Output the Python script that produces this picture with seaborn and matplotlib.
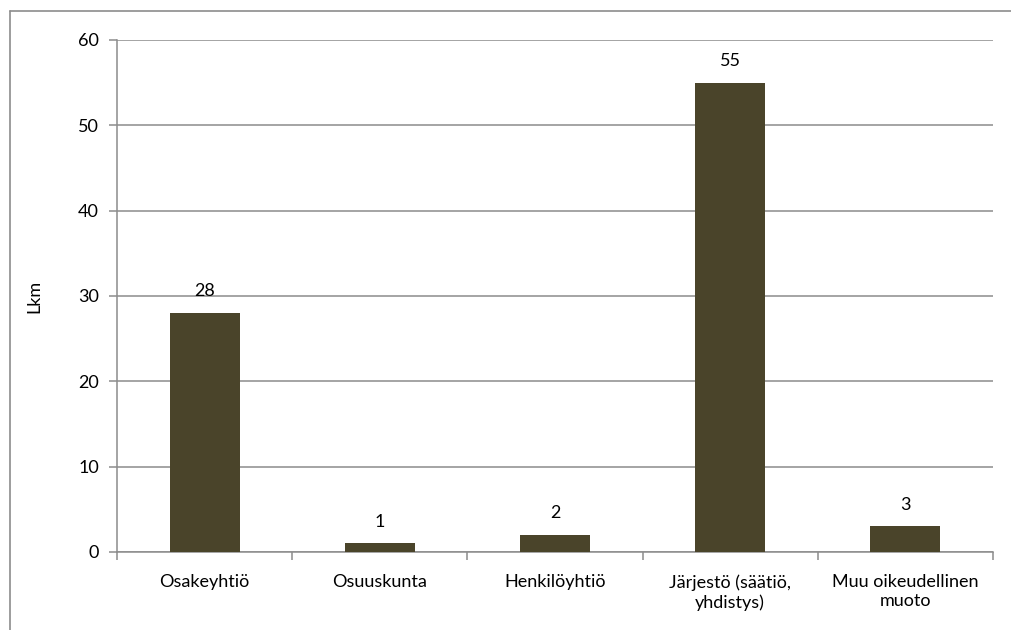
import matplotlib
matplotlib.use("Agg")
import matplotlib.pyplot as plt
from matplotlib.lines import Line2D
import seaborn as sns
import pandas as pd
import numpy as np

categories = ["Osakeyhtiö", "Osuuskunta", "Henkilöyhtiö",
              "Järjestö (säätiö,\nyhdistys)", "Muu oikeudellinen\nmuoto"]
counts = [28, 1, 2, 55, 3]
y_ticks = [0, 10, 20, 30, 40, 50, 60]

sns.set_theme(style="white")
plt.rcParams["font.family"] = ["Lato", "DejaVu Sans"]

df = pd.DataFrame({"muoto": categories, "lkm": counts})

fig = plt.figure(figsize=(10.11, 6.30), dpi=100)
ax = fig.add_axes([117 / 1011, 1 - 552 / 630, (993 - 117) / 1011, (552 - 40) / 630])

grid_c = "#8c8c8c"
bar_c = "#4a442a"
fs = 13

sns.barplot(data=df, x="muoto", y="lkm", color=bar_c, width=0.4,
            saturation=1, linewidth=0, ax=ax, zorder=3)

ax.set_ylim(0, 60)
ax.set_xlim(-0.5, len(categories) - 0.5)
ax.set_yticks(y_ticks)
ax.yaxis.grid(True, color=grid_c, linewidth=1.1, zorder=0)
ax.xaxis.grid(False)
ax.set_axisbelow(True)

for s in ["top", "right"]:
    ax.spines[s].set_visible(False)
for s in ["left", "bottom"]:
    ax.spines[s].set_color(grid_c)
    ax.spines[s].set_linewidth(1.1)

ax.tick_params(axis="y", which="major", length=6, width=1.1, color=grid_c,
               labelsize=fs, labelcolor="black", pad=7, left=True)
ax.tick_params(axis="x", which="major", length=0, labelsize=fs,
               labelcolor="black", pad=16)
for lbl in ax.get_xticklabels():
    lbl.set_linespacing(1.25)
ax.set_xticks(np.arange(-0.5, len(categories), 1.0), minor=True)
ax.tick_params(axis="x", which="minor", length=6, width=1.1, color=grid_c,
               bottom=True)

ax.set_xlabel("")
ax.set_ylabel("Lkm", fontsize=fs, color="black", labelpad=26)

for container in ax.containers:
    ax.bar_label(container, labels=[str(v) for v in counts], padding=10,
                 fontsize=fs, color="black")

# chart frame
fig.add_artist(Line2D([9.5 / 1011, 9.5 / 1011], [0, 1 - 11 / 630],
                      transform=fig.transFigure, color=grid_c, linewidth=1.2))
fig.add_artist(Line2D([9.5 / 1011, 1], [1 - 11 / 630, 1 - 11 / 630],
                      transform=fig.transFigure, color=grid_c, linewidth=1.2))

fig.savefig("out.png", dpi=100)
